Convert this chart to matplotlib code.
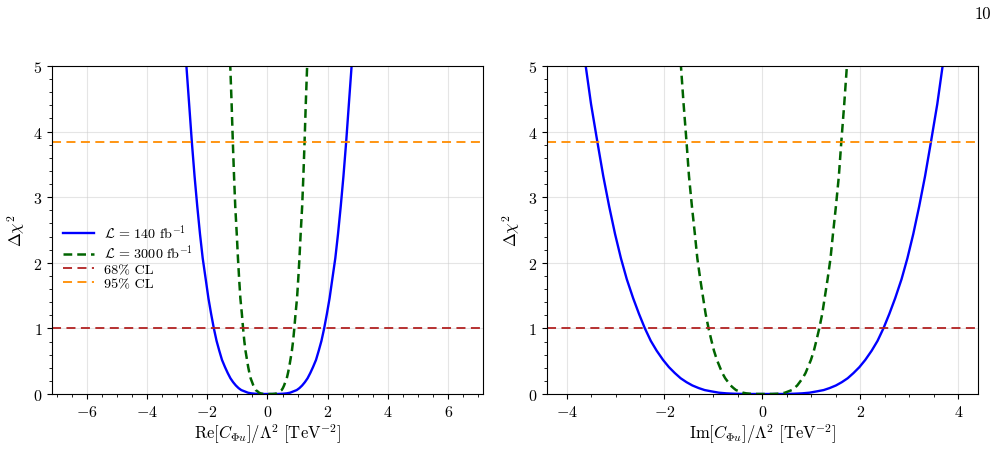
import numpy as np
import matplotlib
matplotlib.use("Agg")
from matplotlib import pyplot as plt
from matplotlib.ticker import MultipleLocator

plt.rcParams['font.family'] = 'serif'
plt.rcParams['font.serif'] = ['cmr10', 'DejaVu Serif']
plt.rcParams['mathtext.fontset'] = 'cm'
plt.rcParams['axes.formatter.use_mathtext'] = True
plt.rcParams['axes.unicode_minus'] = True

dchi2 = [0.0, 0.0005, 0.004, 0.01, 0.02, 0.04, 0.06, 0.09, 0.13, 0.18,
         0.24, 0.32, 0.41, 0.52, 0.66, 0.81, 1.0, 1.22, 1.46, 1.75,
         2.07, 2.44, 2.86, 3.32, 3.84, 4.42, 5.06, 5.48]

# Re[C_phi_u] : left / right branch positions
re_140_lo = [0.05, -0.22, -0.41, -0.54, -0.65, -0.76, -0.87, -0.96, -1.05, -1.14,
             -1.23, -1.32, -1.41, -1.51, -1.60, -1.69, -1.78, -1.87, -1.96, -2.05,
             -2.15, -2.24, -2.33, -2.42, -2.51, -2.60, -2.70, -2.75]
re_140_hi = [0.05, 0.32, 0.51, 0.64, 0.75, 0.86, 0.97, 1.06, 1.15, 1.24,
             1.33, 1.42, 1.51, 1.61, 1.70, 1.79, 1.88, 1.97, 2.06, 2.15,
             2.25, 2.34, 2.43, 2.52, 2.61, 2.70, 2.80, 2.85]
re_3000_lo = [0.04, -0.09, -0.17, -0.23, -0.28, -0.33, -0.39, -0.43, -0.47, -0.51,
              -0.56, -0.60, -0.64, -0.68, -0.73, -0.77, -0.81, -0.85, -0.90, -0.94,
              -0.98, -1.02, -1.07, -1.11, -1.15, -1.19, -1.24, -1.26]
re_3000_hi = [0.04, 0.17, 0.25, 0.31, 0.36, 0.41, 0.47, 0.51, 0.55, 0.59,
              0.64, 0.68, 0.72, 0.76, 0.81, 0.85, 0.89, 0.93, 0.98, 1.02,
              1.06, 1.10, 1.15, 1.19, 1.23, 1.27, 1.32, 1.34]

# Im[C_phi_u]
im_140_lo = [0.035, -0.33, -0.57, -0.74, -0.89, -1.04, -1.18, -1.30, -1.43, -1.55,
             -1.67, -1.79, -1.91, -2.03, -2.16, -2.28, -2.40, -2.52, -2.64, -2.77,
             -2.89, -3.01, -3.13, -3.25, -3.37, -3.50, -3.62, -3.69]
im_140_hi = [0.035, 0.40, 0.64, 0.81, 0.96, 1.11, 1.25, 1.37, 1.50, 1.62,
             1.74, 1.86, 1.98, 2.10, 2.23, 2.35, 2.47, 2.59, 2.71, 2.84,
             2.96, 3.08, 3.20, 3.32, 3.44, 3.57, 3.69, 3.76]
im_3000_lo = [0.03, -0.14, -0.25, -0.33, -0.40, -0.47, -0.54, -0.59, -0.65, -0.70,
              -0.76, -0.82, -0.87, -0.93, -0.99, -1.04, -1.10, -1.16, -1.21, -1.27,
              -1.33, -1.38, -1.44, -1.50, -1.55, -1.61, -1.67, -1.70]
im_3000_hi = [0.03, 0.20, 0.31, 0.39, 0.46, 0.53, 0.60, 0.65, 0.71, 0.76,
              0.82, 0.88, 0.93, 0.99, 1.05, 1.10, 1.16, 1.22, 1.27, 1.33,
              1.39, 1.44, 1.50, 1.56, 1.61, 1.67, 1.73, 1.76]

cl68 = 1.0
cl95 = 3.84


def curve(lo, hi):
    x = np.concatenate([np.array(lo)[::-1], np.array(hi)])
    y = np.concatenate([np.array(dchi2)[::-1], np.array(dchi2)])
    return x, y


fig = plt.figure(figsize=(10.06, 4.77), dpi=100)
ax1 = fig.add_axes([0.0517, 0.1719, 0.4284, 0.6876])
ax2 = fig.add_axes([0.5437, 0.1719, 0.4284, 0.6876])

panels = [
    (ax1, re_140_lo, re_140_hi, re_3000_lo, re_3000_hi, 7.15,
     r'$\mathrm{Re}[C_{\Phi u}]/\Lambda^2\ [\mathrm{TeV}^{-2}]$'),
    (ax2, im_140_lo, im_140_hi, im_3000_lo, im_3000_hi, 4.4,
     r'$\mathrm{Im}[C_{\Phi u}]/\Lambda^2\ [\mathrm{TeV}^{-2}]$'),
]

for ax, l1, h1, l2, h2, xmax, xlab in panels:
    x, y = curve(l1, h1)
    ax.plot(x, y, color='blue', lw=1.7, label=r'$\mathcal{L}\, =\, 140\ \mathrm{fb}^{-1}$')
    x, y = curve(l2, h2)
    ax.plot(x, y, color='darkgreen', lw=1.8, ls=(0, (3.5, 2)),
            label=r'$\mathcal{L}\, =\, 3000\ \mathrm{fb}^{-1}$')
    ax.axhline(cl68, color='firebrick', lw=1.3, ls=(0, (5, 3)), label='68% CL')
    ax.axhline(cl95, color='darkorange', lw=1.3, ls=(0, (5, 3)), label='95% CL')
    ax.set_xlim(-xmax, xmax)
    ax.set_ylim(0, 5)
    ax.xaxis.set_major_locator(MultipleLocator(2))
    ax.xaxis.set_minor_locator(MultipleLocator(0.5))
    ax.yaxis.set_major_locator(MultipleLocator(1))
    ax.yaxis.set_minor_locator(MultipleLocator(0.2))
    ax.grid(True, which='major', color='#cccccc', alpha=0.5, lw=0.8)
    ax.tick_params(labelsize=11.5)
    ax.set_xlabel(xlab, fontsize=12, labelpad=2)
    ax.set_ylabel(r'$\Delta\chi^2$', fontsize=12, labelpad=4)

ax1.legend(loc='upper left', bbox_to_anchor=(0.0255, 0.522), frameon=False,
           borderaxespad=0, borderpad=0, fontsize=10.2, handlelength=2.2,
           handletextpad=0.7, labelspacing=0.08)

fig.text(0.985, 0.97, '10', ha='right', va='center', fontsize=12)

plt.savefig('out.png', dpi=100)
